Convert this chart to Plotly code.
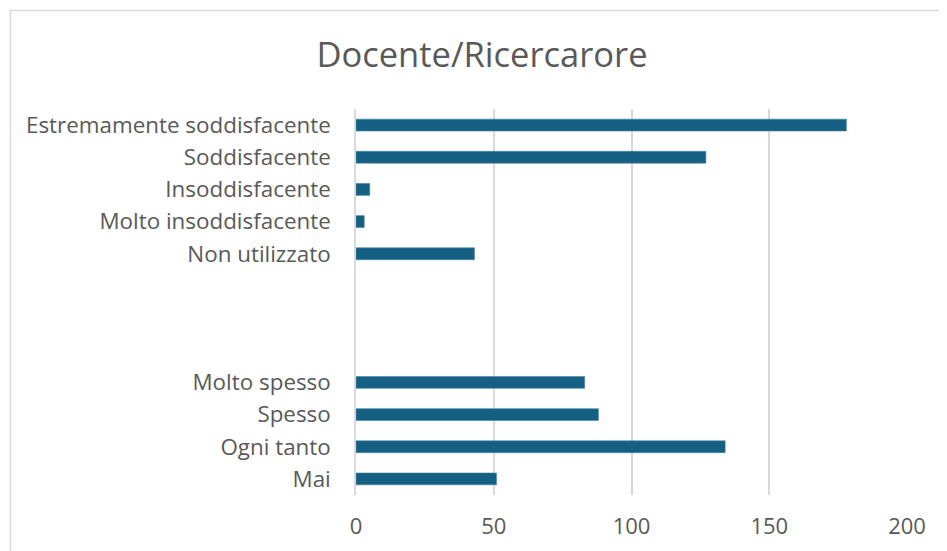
import plotly.graph_objects as go

categories = ["Estremamente soddisfacente", "Soddisfacente", "Insoddisfacente",
              "Molto insoddisfacente", "Non utilizzato", " ", "  ", "   ",
              "Molto spesso", "Spesso", "Ogni tanto", "Mai"]
values = [178, 127, 5, 3, 43, None, None, None, 83, 88, 134, 51]
x_ticks = [0, 50, 100, 150, 200]

W, H = 947, 551
OFF = 8  # page offset of the figure (body margin)
L, T = 355.5 - OFF, 109 - OFF
pw, ph = 551.5, 386
R, B = W - L - pw, H - T - ph

def px_x(p):
    return (p - OFF - L) / pw

def px_y(p):
    return (T + ph - (p - OFF)) / ph

fig = go.Figure(go.Bar(
    x=values, y=categories, orientation="h",
    marker=dict(color="#156082", line=dict(color="#4a86a3", width=0.6)),
))

fig.update_layout(
    width=W, height=H,
    margin=dict(l=L, r=R, t=T, b=B),
    paper_bgcolor="white", plot_bgcolor="white",
    bargap=0.63,
    showlegend=False,
    font=dict(family="Open Sans, sans-serif", color="#595959"),
    title=dict(text="Docente/Ricercarore", x=(482 - OFF) / W, xanchor="center",
               y=1 - (55 - OFF) / H, yanchor="middle",
               font=dict(size=34.5, color="#595959")),
    xaxis=dict(range=[0, 200], tickvals=x_ticks, showgrid=True,
               gridcolor="#d9d9d9", gridwidth=1.5, zeroline=False,
               showline=False, ticks="", tickfont=dict(size=22, color="#595959"),
               ticklabelstandoff=16),
    yaxis=dict(categoryorder="array", categoryarray=categories[::-1],
               autorange=False, range=[-0.5, len(categories) - 0.5],
               showgrid=False, zeroline=False, showline=True,
               linecolor="#d9d9d9", linewidth=1.5, ticks="",
               tickfont=dict(size=22.4, color="#595959"), ticklabelstandoff=19),
    shapes=[dict(type="rect", xref="paper", yref="paper",
                 x0=px_x(9.5), x1=px_x(960), y0=px_y(10.5), y1=px_y(560),
                 line=dict(color="#d9d9d9", width=1.3), fillcolor="rgba(0,0,0,0)",
                 layer="below")],
)

fig.write_html("out.html")
